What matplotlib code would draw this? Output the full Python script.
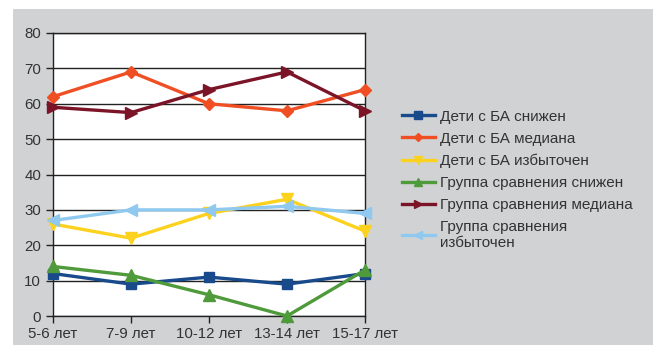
import matplotlib.pyplot as plt
from matplotlib.patches import Rectangle

plt.rcParams['font.family'] = ['Liberation Sans', 'DejaVu Sans']

categories = ['5-6 лет', '7-9 лет', '10-12 лет', '13-14 лет', '15-17 лет']
ba_low = [12, 9, 11, 9, 12]
ba_median = [62, 69, 60, 58, 64]
ba_high = [26, 22, 29, 33, 24]
cmp_low = [14, 11.5, 6, 0, 13]
cmp_median = [59, 57.5, 64, 69, 58]
cmp_high = [27, 30, 30, 31, 29]

series = [
    (ba_low, 'Дети с БА снижен', '#184a8c', 's'),
    (ba_median, 'Дети с БА медиана', '#f04e23', 'D'),
    (ba_high, 'Дети с БА избыточен', '#fcd21e', 'v'),
    (cmp_low, 'Группа сравнения снижен', '#4f9a3b', '^'),
    (cmp_median, 'Группа сравнения медиана', '#7c1428', '>'),
    (cmp_high, 'Группа сравнения\nизбыточен', '#8fc9ef', '<'),
]

fig = plt.figure(figsize=(6.53, 3.45), dpi=100)
fig.patch.set_facecolor('white')
fig.patches.append(Rectangle((13 / 653, 0), 1, 336 / 345, transform=fig.transFigure,
                             facecolor='#d1d2d4', edgecolor='none', zorder=-1))

ax = fig.add_axes([53 / 653, 29 / 345, 312 / 653, 283 / 345])
ax.set_facecolor('white')

x = range(len(categories))
for vals, label, color, marker in series:
    ms = 7 if marker == 's' else (6 if marker == 'D' else 8)
    ax.plot(x, vals, color=color, lw=2.4, marker=marker, markersize=ms,
            label=label, clip_on=False, zorder=3)

ax.set_xlim(0, 4)
ax.set_ylim(0, 80)
ax.set_yticks(range(0, 81, 10))
ax.set_xticks(list(x))
ax.set_xticklabels(categories)
ax.yaxis.grid(True, color='#222222', lw=1)
ax.set_axisbelow(True)
for s in ax.spines.values():
    s.set_color('#222222')
    s.set_linewidth(1)
ax.tick_params(direction='out', length=5, width=1, color='#222222',
               labelsize=10.8, labelcolor='#333333')
ax.tick_params(axis='x', pad=3)

fig.legend(loc='upper left', bbox_to_anchor=(388 / 653, 1 - 96 / 345),
           frameon=False, fontsize=11, handlelength=2.15, handletextpad=0.33,
           labelspacing=0.52, labelcolor='#333333', markerscale=0.75)

fig.savefig('out.png', dpi=100)
